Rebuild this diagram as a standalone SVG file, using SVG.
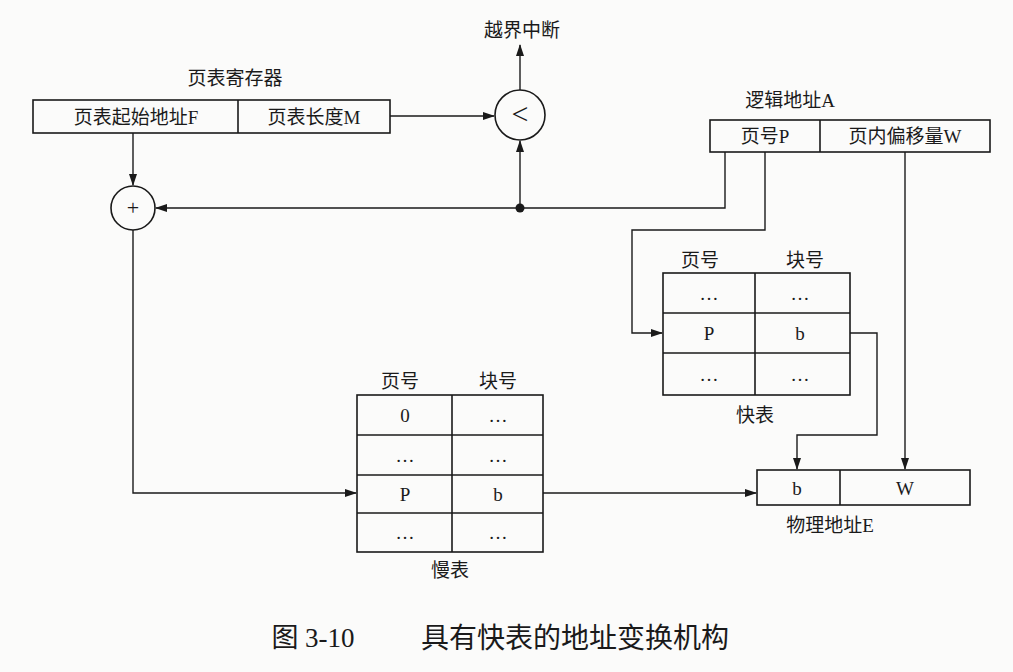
<svg xmlns="http://www.w3.org/2000/svg" width="1013" height="672" viewBox="0 0 1013 672">
<style>
text{font-family:"Liberation Serif","Noto Sans CJK SC",serif;font-size:19px;fill:#1a1a1a;text-anchor:middle;dominant-baseline:central}
.b{fill:none;stroke:#1a1a1a;stroke-width:1.6}
.c{fill:none;stroke:#1a1a1a;stroke-width:1.4}
</style>
<defs><marker id="a" markerWidth="12" markerHeight="8" refX="11" refY="4" orient="auto" markerUnits="userSpaceOnUse"><path d="M0,0L12,4L0,8z" fill="#1a1a1a"/></marker></defs>
<rect width="1013" height="672" fill="#fbfbfa"/>
<g id="register"><text x="235" y="78">页表寄存器</text><rect class="b" x="33" y="100" width="357" height="33"/><line class="b" x1="238" y1="100" x2="238" y2="133"/><text x="136" y="117">页表起始地址F</text><text x="314" y="117">页表长度M</text></g>
<g id="compare"><circle class="b" cx="520" cy="115" r="25"/><text x="520" y="113" style="font-size:30px">&lt;</text><text x="522" y="30">越界中断</text></g>
<g id="adder"><circle class="b" cx="133" cy="208" r="22"/><text x="133" y="207" style="font-size:22px">+</text></g>
<g id="logical"><text x="790" y="100">逻辑地址A</text><rect class="b" x="710" y="120" width="280" height="32"/><line class="b" x1="820" y1="120" x2="820" y2="152"/><text x="765" y="136">页号P</text><text x="905" y="136">页内偏移量W</text></g>
<g id="fast"><text x="700" y="260">页号</text><text x="805" y="260">块号</text><rect class="b" x="663" y="273" width="187" height="122"/><line class="b" x1="663" y1="313" x2="850" y2="313"/><line class="b" x1="663" y1="353" x2="850" y2="353"/><line class="b" x1="755" y1="273" x2="755" y2="395"/><text x="709" y="293">…</text><text x="800" y="293">…</text><text x="709" y="333">P</text><text x="800" y="333">b</text><text x="709" y="374">…</text><text x="800" y="374">…</text><text x="755" y="415">快表</text></g>
<g id="slow"><text x="400" y="381">页号</text><text x="498" y="381">块号</text><rect class="b" x="357" y="395" width="186" height="157"/><line class="b" x1="357" y1="435" x2="543" y2="435"/><line class="b" x1="357" y1="475" x2="543" y2="475"/><line class="b" x1="357" y1="513" x2="543" y2="513"/><line class="b" x1="452" y1="395" x2="452" y2="552"/><text x="405" y="415">0</text><text x="498" y="415">…</text><text x="405" y="455">…</text><text x="498" y="455">…</text><text x="405" y="494">P</text><text x="498" y="494">b</text><text x="405" y="532">…</text><text x="498" y="532">…</text><text x="450" y="570">慢表</text></g>
<g id="physical"><rect class="b" x="757" y="470" width="213" height="35"/><line class="b" x1="840" y1="470" x2="840" y2="505"/><text x="797" y="488">b</text><text x="905" y="488">W</text><text x="830" y="525">物理地址E</text></g>
<g id="connectors">
<line class="c" x1="520" y1="90" x2="520" y2="45" marker-end="url(#a)"/>
<line class="c" x1="390" y1="116" x2="494" y2="116" marker-end="url(#a)"/>
<line class="c" x1="133" y1="133" x2="133" y2="185" marker-end="url(#a)"/>
<polyline class="c" points="725,152 725,208 156,208" marker-end="url(#a)"/>
<circle cx="520" cy="208" r="4.5" fill="#1a1a1a"/>
<line class="c" x1="520" y1="208" x2="520" y2="141" marker-end="url(#a)"/>
<polyline class="c" points="765,152 765,230 632,230 632,333 662,333" marker-end="url(#a)"/>
<polyline class="c" points="850,333 877,333 877,435 797,435 797,469" marker-end="url(#a)"/>
<line class="c" x1="905" y1="152" x2="905" y2="469" marker-end="url(#a)"/>
<polyline class="c" points="133,230 133,493 356,493" marker-end="url(#a)"/>
<line class="c" x1="543" y1="493" x2="756" y2="493" marker-end="url(#a)"/>
</g>
<text x="313" y="638" style="font-size:27px">图 3-10</text>
<text x="575" y="638" style="font-size:28px">具有快表的地址变换机构</text>
</svg>
